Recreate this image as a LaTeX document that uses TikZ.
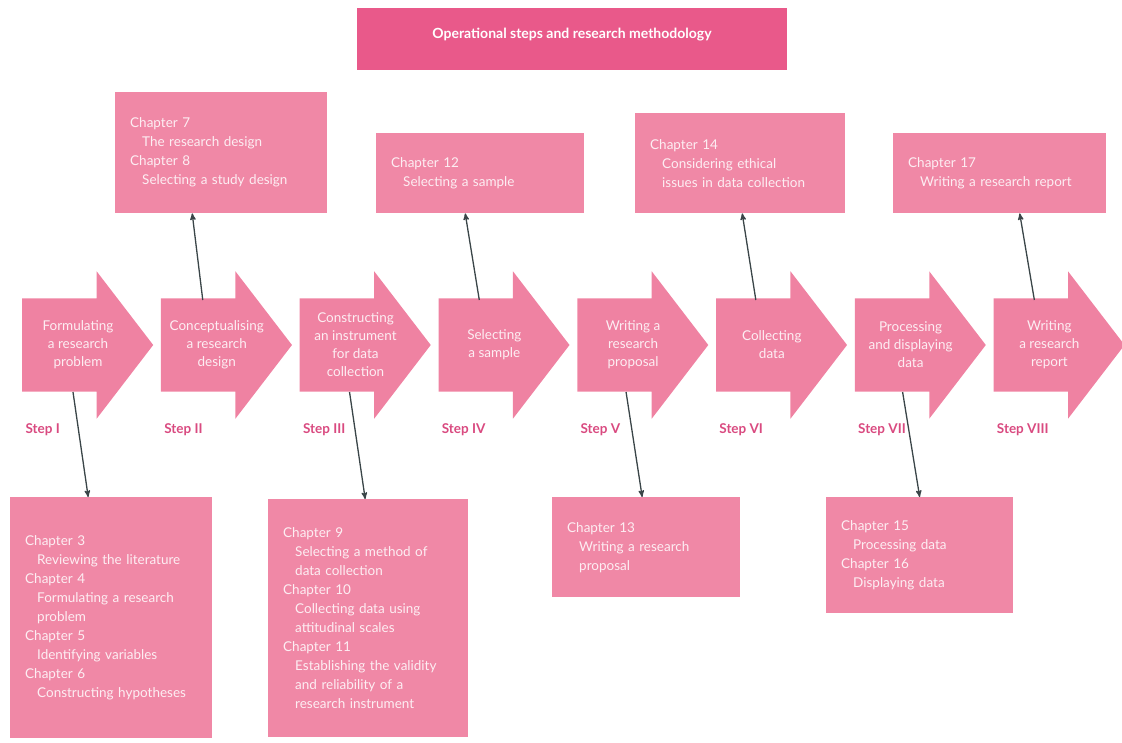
\documentclass[tikz,border=0pt]{standalone}
\usepackage{fontspec}
\setmainfont{Lato}
\usetikzlibrary{shapes.arrows, positioning, arrows}
\definecolor{boxpink}{HTML}{F088A6}
\definecolor{arrowpink}{HTML}{EF82A2}
\definecolor{titlepink}{HTML}{E9598A}
\definecolor{steppink}{HTML}{D94A80}
\definecolor{paletext}{HTML}{FDEEF3}
\definecolor{linkgray}{HTML}{3A4548}
\tikzset{
>=stealth', % pointed heads for the links
node distance=7.3pt, % gap between two step arrows
steparrow/.style={single arrow, fill=arrowpink, minimum height=131pt, single arrow head extend=27pt, single arrow tip angle=105, inner xsep=0pt, inner ysep=46.5pt}, % the big arrows
steptext/.style={text=paletext, align=center, font=\fontsize{13.5}{18}\selectfont}, % text on the arrows
steplabel/.style={text=steppink, anchor=west, font=\bfseries\fontsize{13.5}{15}\selectfont}, % Step I, Step II ...
chapbox/.style 2 args={fill=boxpink, text=paletext, anchor=north west, align=left, inner xsep=15pt, text width=#1, minimum height=#2, font=\fontsize{13.5}{19}\selectfont}, % chapter boxes
link/.style={->, line width=1.3pt, draw=linkgray}, % lines from the steps to the chapters
}
\newcommand{\chapind}{\hspace*{12pt}}

\begin{document}
\begin{tikzpicture}[x=1pt, y=-1pt]
    \useasboundingbox (0,0) rectangle (1122,742);
    \node[fill=titlepink, text=white, minimum width=430pt, minimum height=62pt, text depth=12pt, font=\bfseries\fontsize{14}{16}\selectfont] (title) at (572,39) {Operational steps and research methodology};

    % the eight steps
    \node[steparrow, anchor=tail] (s1) at (22,345) {};
    \node[steparrow, right=of s1] (s2) {};
    \node[steparrow, right=of s2] (s3) {};
    \node[steparrow, right=of s3] (s4) {};
    \node[steparrow, right=of s4] (s5) {};
    \node[steparrow, right=of s5] (s6) {};
    \node[steparrow, right=of s6] (s7) {};
    \node[steparrow, right=of s7] (s8) {};
    \node[steptext] (w1) at ([xshift=56pt]s1.tail) {Formulating\\a research\\problem};
    \node[steptext] (w2) at ([xshift=56pt]s2.tail) {Conceptualising\\a research\\design};
    \node[steptext] (w3) at ([xshift=56pt]s3.tail) {Constructing\\an instrument\\for data\\collection};
    \node[steptext] (w4) at ([xshift=56pt]s4.tail) {Selecting\\a sample};
    \node[steptext] (w5) at ([xshift=56pt]s5.tail) {Writing a\\research\\proposal};
    \node[steptext] (w6) at ([xshift=56pt]s6.tail) {Collecting\\data};
    \node[steptext] (w7) at ([xshift=56pt]s7.tail) {Processing\\and displaying\\data};
    \node[steptext] (w8) at ([xshift=56pt]s8.tail) {Writing\\a research\\report};
    \node[steplabel] (l1) at ([yshift=-85pt]s1.tail) {Step I};
    \node[steplabel] (l2) at ([yshift=-85pt]s2.tail) {Step II};
    \node[steplabel] (l3) at ([yshift=-85pt]s3.tail) {Step III};
    \node[steplabel] (l4) at ([yshift=-85pt]s4.tail) {Step IV};
    \node[steplabel] (l5) at ([yshift=-85pt]s5.tail) {Step V};
    \node[steplabel] (l6) at ([yshift=-85pt]s6.tail) {Step VI};
    \node[steplabel] (l7) at ([yshift=-85pt]s7.tail) {Step VII};
    \node[steplabel] (l8) at ([yshift=-85pt]s8.tail) {Step VIII};

    % chapters above
    \node[chapbox={182pt}{121pt}] (t1) at (115,92) {Chapter 7\\\chapind The research design\\Chapter 8\\\chapind Selecting a study design};
    \node[chapbox={178pt}{80pt}] (t2) at (376,133) {Chapter 12\\\chapind Selecting a sample};
    \node[chapbox={180pt}{100pt}] (t3) at (635,113) {Chapter 14\\\chapind Considering ethical\\\chapind issues in data collection};
    \node[chapbox={183pt}{80pt}] (t4) at (893,133) {Chapter 17\\\chapind Writing a research report};
    % chapters below
    \node[chapbox={172pt}{241pt}] (b1) at (10,497) {Chapter 3\\\chapind Reviewing the literature\\Chapter 4\\\chapind Formulating a research\\\chapind problem\\Chapter 5\\\chapind Identifying variables\\Chapter 6\\\chapind Constructing hypotheses};
    \node[chapbox={170pt}{238pt}] (b2) at (268,499) {Chapter 9\\\chapind Selecting a method of\\\chapind data collection\\Chapter 10\\\chapind Collecting data using\\\chapind attitudinal scales\\Chapter 11\\\chapind Establishing the validity\\\chapind and reliability of a\\\chapind research instrument};
    \node[chapbox={158pt}{100pt}] (b3) at (552,497) {Chapter 13\\\chapind Writing a research\\\chapind proposal};
    \node[chapbox={157pt}{116pt}] (b4) at (826,497) {Chapter 15\\\chapind Processing data\\Chapter 16\\\chapind Displaying data};

    \draw[link] (s1.tail) ++(51,47) -- ([xshift=-23pt]b1.north);
    \draw[link] (s2.tail) ++(42,-45) -- ([xshift=-29pt]t1.south);
    \draw[link] (s3.tail) ++(50,47) -- ([xshift=-3pt]b2.north);
    \draw[link] (s4.tail) ++(41,-45) -- ([xshift=-15pt]t2.south);
    \draw[link] (s5.tail) ++(49,47) -- ([xshift=-4pt]b3.north);
    \draw[link] (s6.tail) ++(40,-45) -- ([xshift=2pt]t3.south);
    \draw[link] (s7.tail) ++(48,47) -- (b4.north);
    \draw[link] (s8.tail) ++(41,-45) -- ([xshift=20pt]t4.south);
\end{tikzpicture}
\end{document}
